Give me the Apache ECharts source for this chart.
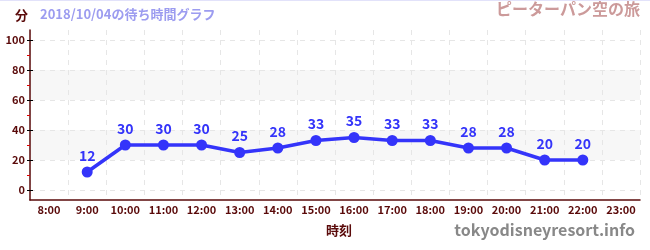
<!DOCTYPE html>
<html><head><meta charset="utf-8">
<script src="https://cdn.jsdelivr.net/npm/echarts@6/dist/echarts.min.js"></script>
<style>html,body{margin:0;padding:0;background:#fff}#c{width:650px;height:250px}</style>
</head><body><div id="c"></div>
<script>
const categories = ['8:00','9:00','10:00','11:00','12:00','13:00','14:00','15:00','16:00','17:00','18:00','19:00','20:00','21:00','22:00','23:00'];
const waitTimes = [null,12,30,30,30,25,28,33,35,33,33,28,28,20,20,null];
const yTicks = [0,20,40,60,80,100];
const titleText = '2018/10/04の待ち時間グラフ';
const attractionName = 'ピーターパン空の旅';
const siteName = 'tokyodisneyresort.info';
const yUnit = '分';
const xName = '時刻';

const FONT = '"Noto Sans CJK JP","Noto Sans",sans-serif';
const MAROON = '#5a0a0a';
const chart = echarts.init(document.getElementById('c'), null, {renderer:'canvas'});
chart.setOption({
  animation:false,
  textStyle:{fontFamily:FONT},
  graphic:[
    {type:'line', shape:{x1:0,y1:0.5,x2:650,y2:0.5}, style:{stroke:'#e2e2fa',lineWidth:1}},
    {type:'text', left:15, top:9, style:{text:yUnit, fill:MAROON, font:'bold 13px '+FONT}},
    {type:'text', left:40, top:8, style:{text:titleText, fill:'#9c9cf0', font:'bold 13px '+FONT}},
    {type:'text', right:10, top:1, style:{text:attractionName, fill:'#cc9a9a', font:'bold 16px '+FONT}},
    {type:'text', left:326, top:224, style:{text:xName, fill:MAROON, font:'bold 13px '+FONT}},
    {type:'text', right:15, top:222, style:{text:siteName, fill:'#888', font:'bold 16px '+FONT}}
  ],
  grid:[
    {left:30,right:10,top:30,bottom:50},
    {left:30,right:10,top:40,bottom:60}
  ],
  xAxis:[
    {type:'category', gridIndex:0, data:categories, boundaryGap:true,
     axisLine:{lineStyle:{color:MAROON,width:1.5}},
     axisTick:{alignWithLabel:true, interval:0, inside:true, length:4, lineStyle:{color:'#777'}},
     axisLabel:{interval:0, color:MAROON, fontSize:11, fontWeight:'bold', margin:4, fontFamily:FONT},
     splitLine:{show:true, interval:0, lineStyle:{color:'#e6e6e6', type:[5,5]}}},
    {type:'category', gridIndex:1, data:categories, boundaryGap:true, show:false}
  ],
  yAxis:[
    {type:'value', gridIndex:0, min:0, max:1, show:true,
     axisLine:{show:true, lineStyle:{color:MAROON,width:1.5}},
     axisTick:{show:false}, axisLabel:{show:false}, splitLine:{show:false}},
    {type:'value', gridIndex:1, min:0, max:100, interval:20,
     axisLine:{show:false},
     axisTick:{show:true, length:3, lineStyle:{color:'#000'}},
     minorTick:{show:true, splitNumber:2, length:3, lineStyle:{color:'#e00000'}},
     axisLabel:{color:MAROON, fontSize:11, fontWeight:'bold', margin:5, fontFamily:FONT},
     splitLine:{show:true, lineStyle:{color:'#e6e6e6', type:[5,5]}},
     splitArea:{show:true, areaStyle:{color:['rgba(255,255,255,0)','#f7f7f7']}}},
    {type:'value', gridIndex:1, min:0, max:100, interval:20, position:'left',
     axisLine:{show:false}, axisTick:{show:true, inside:true, length:3, lineStyle:{color:'#000'}},
     axisLabel:{show:false}, splitLine:{show:false}}
  ],
  series:[{
    type:'line', xAxisIndex:1, yAxisIndex:1, data:waitTimes,
    symbol:'circle', symbolSize:11,
    lineStyle:{color:'#3434fa', width:3.5},
    itemStyle:{color:'#3434fa'},
    label:{show:true, position:'top', distance:4, color:'#3434fa', fontSize:14, fontWeight:'bold', fontFamily:FONT}
  }]
});
</script></body></html>
